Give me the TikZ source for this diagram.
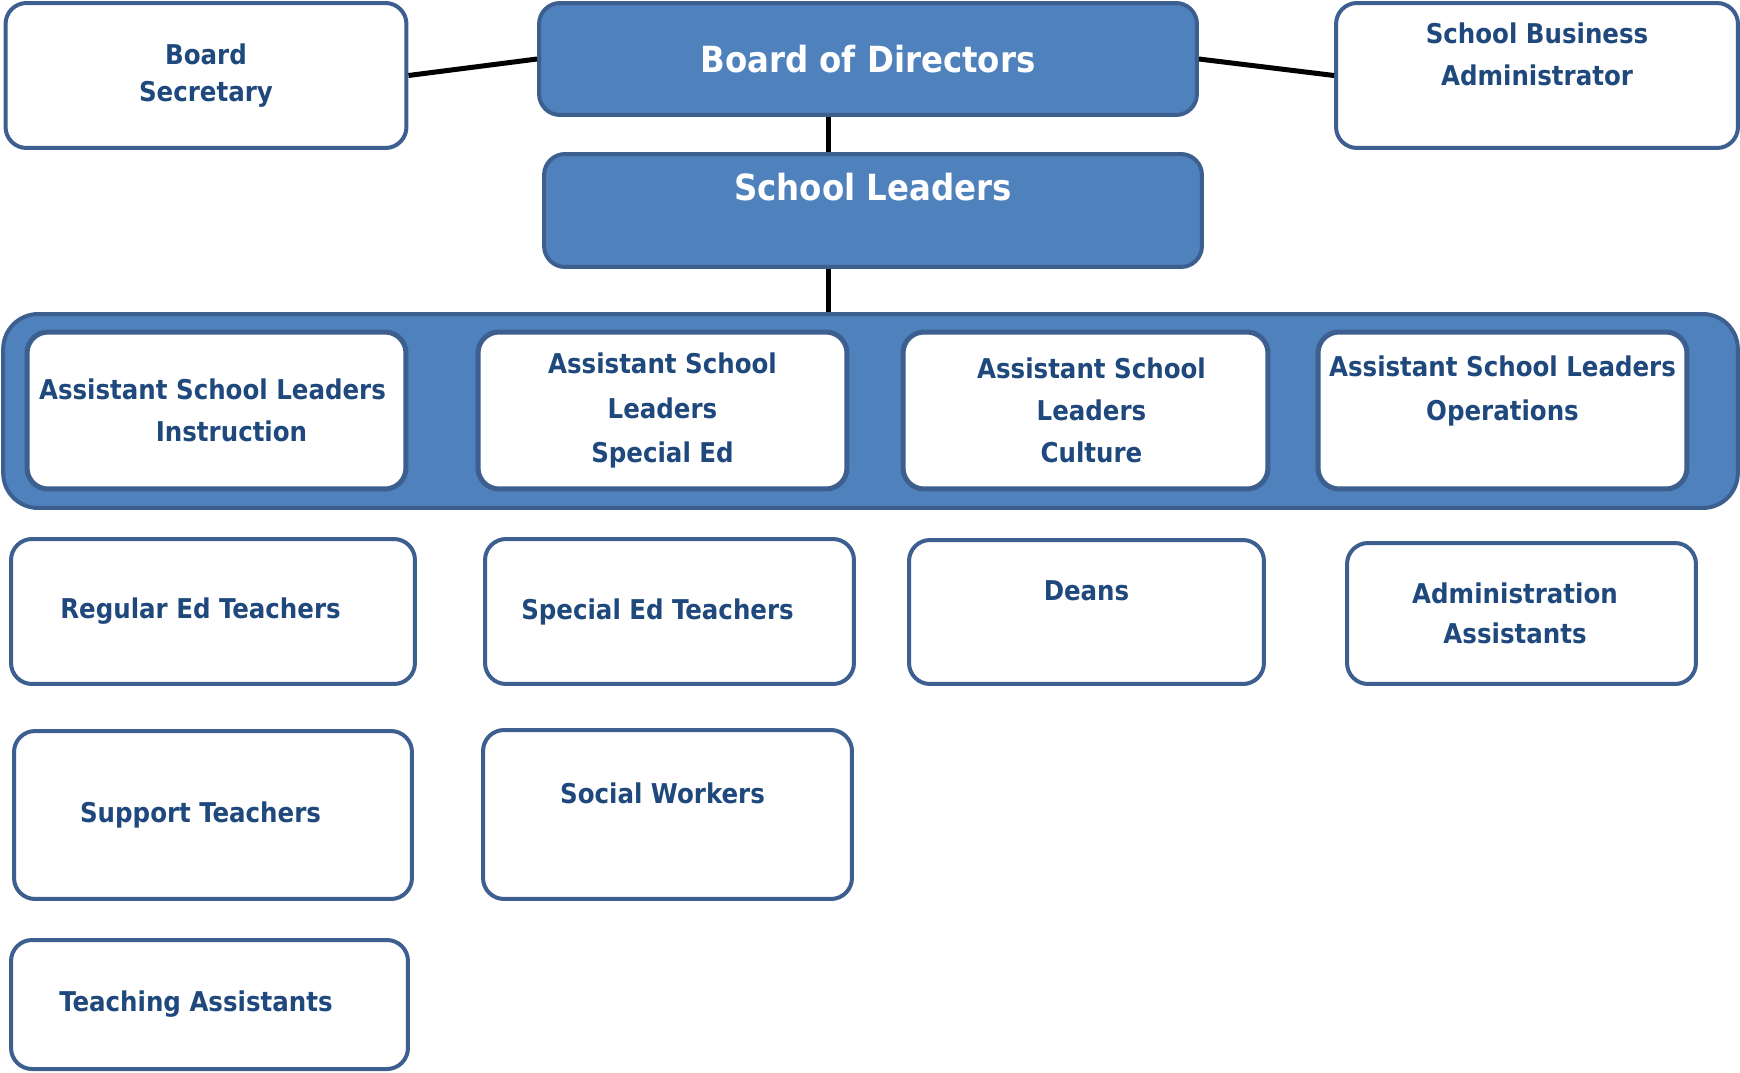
\documentclass[tikz,border=0pt]{standalone}
\usepackage{fontspec}
\setmainfont{DejaVu Sans Condensed}
\usepackage{tikz}
\definecolor{boxblue}{HTML}{4F81BD}
\definecolor{edgeblue}{HTML}{3C5F8F}
\definecolor{textblue}{HTML}{1F497D}
\tikzset{
    orgbox/.style={shape=rectangle, rounded corners=0.42cm, draw=edgeblue, line width=0.08cm,
        fill=white, text=textblue, align=center, inner sep=0pt,
        font=\bfseries\fontsize{15.5}{24}\selectfont},
    topbox/.style={orgbox, fill=boxblue, text=white, font=\bfseries\fontsize{20.5}{24.6}\selectfont},
    bandbox/.style={shape=rectangle, rounded corners=0.7cm, draw=edgeblue, line width=0.08cm, fill=boxblue},
    asl/.style={orgbox, line width=0.1cm},
    link/.style={draw=black, line width=0.1cm}}

\begin{document}
\begin{tikzpicture}[x=0.02cm, y=-0.02cm]
    \useasboundingbox (0,0) rectangle (1740,1072);

    \node[topbox, minimum width=13.16cm, minimum height=2.24cm] (bod) at (868,59) {Board of Directors};
    \node[orgbox, minimum width=8.02cm, minimum height=2.9cm, font=\bfseries\fontsize{15.5}{21.5}\selectfont] (bsec) at (206,75.5) {Board\\Secretary};
    \node[orgbox, minimum width=8.04cm, minimum height=2.9cm] (sba) at (1537,75.5) {School Business\\Administrator\\ \mbox{}};
    \node[topbox, minimum width=13.16cm, minimum height=2.26cm] (sl) at (873,210.5) {School Leaders\\[0.1cm]\mbox{}};

    \node[bandbox, minimum width=34.7cm, minimum height=3.88cm] (band) at (870.5,411) {};
    \node[asl, minimum width=7.58cm, minimum height=3.14cm] (asli) at (216.5,410.5) {Assistant School Leaders\hspace*{0.16cm}\\\hspace*{0.6cm}Instruction};
    \node[asl, minimum width=7.38cm, minimum height=3.14cm, font=\bfseries\fontsize{15.5}{25.5}\selectfont] (asls) at (662.5,410.5) {Assistant School\\Leaders\\Special Ed};
    \node[asl, minimum width=7.3cm, minimum height=3.14cm] (aslc) at (1085.5,410.5) {\hspace*{0.24cm}Assistant School\\\hspace*{0.24cm}Leaders\\\hspace*{0.24cm}Culture};
    \node[asl, minimum width=7.38cm, minimum height=3.14cm, font=\bfseries\fontsize{15.5}{25.5}\selectfont] (aslo) at (1502.5,410.5) {Assistant School Leaders\\Operations\\ \mbox{}};

    \node[orgbox, minimum width=8.08cm, minimum height=2.9cm] (reg) at (213,611.5) {Regular Ed Teachers\hspace*{0.5cm}};
    \node[orgbox, minimum width=7.38cm, minimum height=2.9cm] (sped) at (669.5,611.5) {Special Ed Teachers\hspace*{0.48cm}};
    \node[orgbox, minimum width=7.1cm, minimum height=2.88cm] (deans) at (1086.5,612) {Deans\\ \mbox{}};
    \node[orgbox, minimum width=6.98cm, minimum height=2.82cm, font=\bfseries\fontsize{15.5}{22.5}\selectfont] (adm) at (1521.5,613.5) {Administration\hspace*{0.26cm}\\Assistants\hspace*{0.26cm}};

    \node[orgbox, minimum width=7.96cm, minimum height=3.36cm] (sup) at (213,815) {Support Teachers\hspace*{0.5cm}};
    \node[orgbox, minimum width=7.38cm, minimum height=3.38cm] (sw) at (667.5,814.5) {Social Workers\hspace*{0.2cm}\\ \mbox{}};
    \node[orgbox, minimum width=7.94cm, minimum height=2.58cm] (ta) at (209.5,1004.5) {Teaching Assistants\hspace*{0.54cm}};

    \draw[link] (bsec.east) -- (bod.west);
    \draw[link] (bod.east) -- (sba.west);
    \draw[link] ([xshift=-0.8cm]bod.south) -- ([xshift=-0.8cm]bod.south |- sl.north);
    \draw[link] ([xshift=-0.9cm]sl.south) -- ([xshift=-0.9cm]sl.south |- band.north);

\end{tikzpicture}
\end{document}
